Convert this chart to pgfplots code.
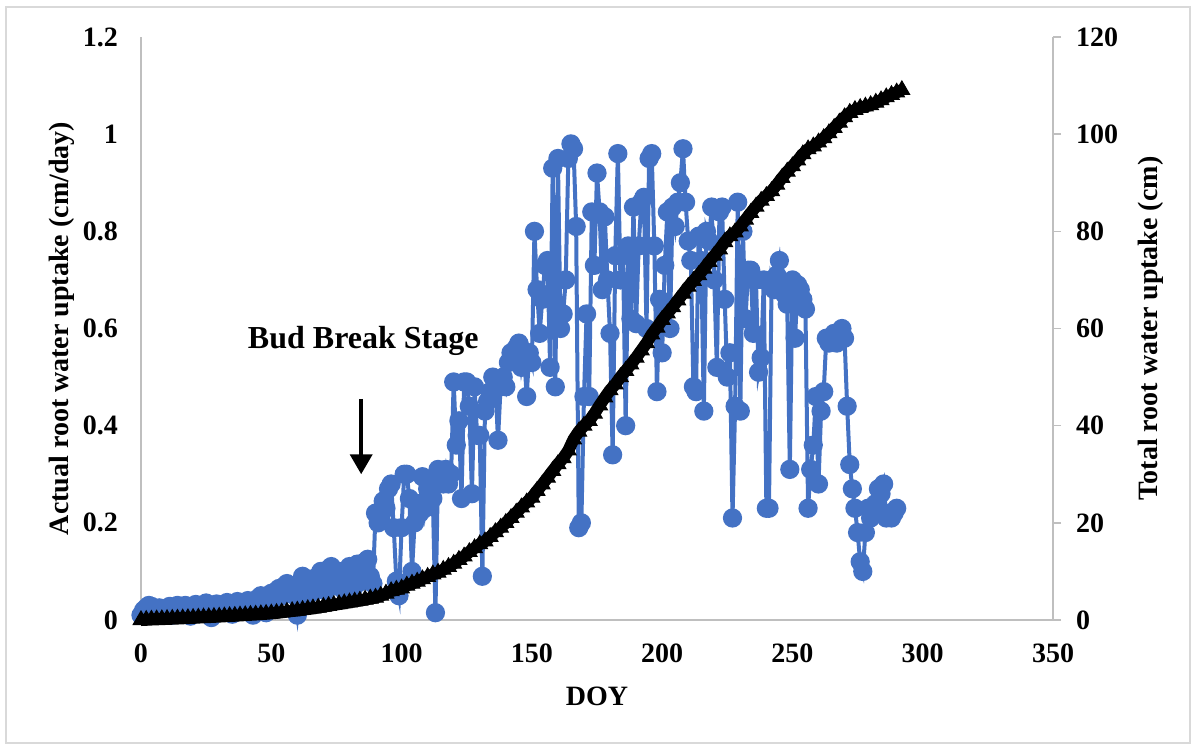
\documentclass[border=0pt]{standalone}
\usepackage{pgfplots}
\pgfplotsset{compat=1.18}
\usetikzlibrary{arrows.meta}
\usepackage{fontspec}
\setmainfont{Liberation Serif}
\definecolor{blu}{HTML}{4472C4}
\definecolor{axgray}{HTML}{BFBFBF}
\definecolor{brd}{HTML}{D9D9D9}
\begin{document}
\begin{tikzpicture}
\useasboundingbox (-70.5pt,-62.5pt) rectangle (526pt,310pt);
\draw[brd, line width=0.75pt] (-67.5pt,-61.5pt) rectangle (524.5pt,306.5pt);
\begin{axis}[
  width=456pt, height=291.5pt, scale only axis,
  xmin=0, xmax=350, ymin=0, ymax=1.2,
  axis x line*=bottom, axis y line*=left,
  axis line style={axgray, line width=0.75pt, -},
  xtick={0,50,100,150,200,250,300,350},
  ytick={0,0.2,0.4,0.6,0.8,1,1.2},
  yticklabels={0,0.2,0.4,0.6,0.8,1,1.2},
  major tick length=0pt,
  /pgf/number format/assume math mode=true,
  tick label style={font=\bfseries\fontsize{14}{16}\selectfont},
  xticklabel style={yshift=-8.5pt},
  yticklabel style={xshift=-8pt},
  xlabel={DOY}, ylabel={Actual root water uptake (cm/day)},
  label style={font=\bfseries\fontsize{14}{16}\selectfont},
  xlabel style={at={(axis description cs:0.5,-0.1304)}, anchor=center},
  ylabel style={at={(axis description cs:-0.0866,0.5)}, anchor=center},
  clip=false,
]
\addplot[blu, line width=2pt, mark=*, mark size=3.8pt, mark options={fill=blu, draw=blu}] coordinates {
(0,0.01)(1,0.02)(2,0.025)(3,0.03)(4,0.028)(5,0.02)(6,0.012)(7,0.025)(8,0.02)(9,0.015)
(10,0.022)(11,0.028)(12,0.01)(13,0.02)(14,0.03)(15,0.025)(16,0.018)(17,0.03)(18,0.022)(19,0.008)
(20,0.025)(21,0.032)(22,0.028)(23,0.015)(24,0.03)(25,0.035)(26,0.02)(27,0.005)(28,0.03)(29,0.033)
(30,0.025)(31,0.018)(32,0.03)(33,0.036)(34,0.028)(35,0.012)(36,0.032)(37,0.038)(38,0.03)(39,0.02)
(40,0.035)(41,0.04)(42,0.03)(43,0.01)(44,0.025)(45,0.045)(46,0.05)(47,0.035)(48,0.015)(49,0.05)
(50,0.055)(51,0.04)(52,0.06)(53,0.065)(54,0.05)(55,0.07)(56,0.075)(57,0.06)(58,0.065)(59,0.05)
(60,0.01)(61,0.06)(62,0.09)(63,0.07)(64,0.05)(65,0.075)(66,0.085)(67,0.06)(68,0.09)(69,0.1)
(70,0.08)(71,0.06)(72,0.105)(73,0.11)(74,0.09)(75,0.07)(76,0.1)(77,0.08)(78,0.06)(79,0.1)
(80,0.11)(81,0.085)(82,0.07)(83,0.115)(84,0.1)(85,0.08)(86,0.12)(87,0.125)(88,0.09)(89,0.075)
(90,0.22)(91,0.2)(92,0.21)(93,0.245)(94,0.23)(95,0.27)(96,0.28)(97,0.19)(98,0.08)(99,0.05)
(100,0.19)(101,0.3)(102,0.3)(103,0.25)(104,0.1)(105,0.2)(106,0.24)(107,0.22)(108,0.295)(109,0.23)
(110,0.27)(111,0.29)(112,0.25)(113,0.015)(114,0.31)(115,0.3)(116,0.28)(117,0.31)(118,0.28)(119,0.3)
(120,0.49)(121,0.36)(122,0.41)(123,0.25)(124,0.49)(125,0.49)(126,0.44)(127,0.26)(128,0.48)(129,0.38)
(130,0.38)(131,0.09)(132,0.43)(133,0.45)(134,0.47)(135,0.5)(136,0.49)(137,0.37)(138,0.48)(139,0.5)
(140,0.48)(141,0.53)(142,0.55)(143,0.54)(144,0.56)(145,0.57)(146,0.52)(147,0.55)(148,0.46)(149,0.55)
(150,0.53)(151,0.8)(152,0.68)(153,0.59)(154,0.66)(155,0.73)(156,0.74)(157,0.52)(158,0.93)(159,0.48)
(160,0.95)(161,0.6)(162,0.63)(163,0.7)(164,0.95)(165,0.98)(166,0.97)(167,0.81)(168,0.19)(169,0.2)
(170,0.46)(171,0.63)(172,0.46)(173,0.84)(174,0.73)(175,0.92)(176,0.84)(177,0.68)(178,0.83)(179,0.7)
(180,0.59)(181,0.34)(182,0.75)(183,0.96)(184,0.7)(185,0.75)(186,0.4)(187,0.77)(188,0.62)(189,0.85)
(190,0.61)(191,0.77)(192,0.86)(193,0.87)(194,0.6)(195,0.95)(196,0.96)(197,0.77)(198,0.47)(199,0.66)
(200,0.55)(201,0.73)(202,0.84)(203,0.6)(204,0.85)(205,0.81)(206,0.86)(207,0.9)(208,0.97)(209,0.86)
(210,0.78)(211,0.74)(212,0.48)(213,0.47)(214,0.79)(215,0.74)(216,0.43)(217,0.8)(218,0.78)(219,0.85)
(220,0.7)(221,0.52)(222,0.84)(223,0.85)(224,0.66)(225,0.5)(226,0.55)(227,0.21)(228,0.44)(229,0.86)
(230,0.43)(231,0.8)(232,0.62)(233,0.72)(234,0.72)(235,0.59)(236,0.7)(237,0.51)(238,0.54)(239,0.7)
(240,0.23)(241,0.23)(242,0.7)(243,0.68)(244,0.71)(245,0.74)(246,0.69)(247,0.67)(248,0.65)(249,0.31)
(250,0.7)(251,0.58)(252,0.69)(253,0.68)(254,0.66)(255,0.64)(256,0.23)(257,0.31)(258,0.36)(259,0.46)
(260,0.28)(261,0.43)(262,0.47)(263,0.58)(264,0.57)(265,0.58)(266,0.59)(267,0.57)(268,0.58)(269,0.6)
(270,0.58)(271,0.44)(272,0.32)(273,0.27)(274,0.23)(275,0.18)(276,0.12)(277,0.1)(278,0.18)(279,0.23)
(280,0.21)(281,0.22)(282,0.24)(283,0.27)(284,0.26)(285,0.28)(286,0.21)(287,0.22)(288,0.21)(289,0.22)
(290,0.23)
};
\draw[black, line width=2pt, -{Triangle[length=10pt, width=11pt]}] (axis cs:84.5,0.455) -- (axis cs:84.5,0.30);
\node[font=\bfseries\fontsize{16}{18}\selectfont, anchor=center] at (axis cs:85.3,0.574) {Bud Break Stage};
\end{axis}
\begin{axis}[
  width=456pt, height=291.5pt, scale only axis,
  xmin=0, xmax=350, ymin=0, ymax=120,
  axis x line=none, axis y line*=right,
  axis line style={axgray, line width=0.75pt, -},
  ytick={0,20,40,60,80,100,120},
  tick align=outside, major tick length=4pt,
  tick style={axgray, line width=0.75pt},
  /pgf/number format/assume math mode=true,
  tick label style={font=\bfseries\fontsize{14}{16}\selectfont},
  yticklabel style={xshift=4pt},
  ylabel={Total root water uptake (cm)},
  label style={font=\bfseries\fontsize{14}{16}\selectfont},
  ylabel style={at={(axis description cs:1.1075,0.5)}, anchor=center},
  clip=false,
]
\addplot[black, line width=6pt, mark=triangle*, mark size=4.5pt, mark options={fill=black, draw=black, line width=0.5pt}] coordinates {
(0,0)(2,0.04)(4,0.1)(6,0.14)(8,0.18)(10,0.22)(12,0.26)(14,0.3)(16,0.35)(18,0.4)
(20,0.44)(22,0.5)(24,0.55)(26,0.6)(28,0.65)(30,0.7)(32,0.76)(34,0.82)(36,0.87)(38,0.94)
(40,1.0)(42,1.07)(44,1.12)(46,1.2)(48,1.28)(50,1.36)(52,1.46)(54,1.58)(56,1.72)(58,1.85)
(60,1.95)(62,2.1)(64,2.25)(66,2.4)(68,2.56)(70,2.74)(72,2.92)(74,3.1)(76,3.28)(78,3.45)
(80,3.63)(82,3.82)(84,4.0)(86,4.2)(88,4.42)(90,4.6)(92,5.0)(94,5.45)(96,5.95)(98,6.25)
(100,6.5)(102,7.1)(104,7.5)(106,7.9)(108,8.4)(110,8.9)(112,9.4)(114,9.75)(116,10.35)(118,10.95)
(120,11.6)(122,12.4)(124,13.1)(126,14.0)(128,14.8)(130,15.6)(132,16.2)(134,17.1)(136,18.1)(138,19.0)
(140,20.0)(142,21.0)(144,22.1)(146,23.2)(148,24.2)(150,25.2)(152,26.6)(154,27.9)(156,29.3)(158,30.7)
(160,32.1)(162,33.3)(164,34.9)(166,37.2)(168,38.8)(170,40.0)(172,41.0)(174,42.5)(176,44.2)(178,45.8)
(180,47.3)(182,48.5)(184,50.0)(186,51.3)(188,52.6)(190,54.0)(192,55.5)(194,57.0)(196,58.8)(198,60.2)
(200,61.8)(202,63.1)(204,64.4)(206,65.8)(208,67.2)(210,68.6)(212,69.8)(214,71.0)(216,72.3)(218,73.7)
(220,75.0)(222,76.3)(224,77.8)(226,79.0)(228,79.8)(230,81.0)(232,82.4)(234,83.8)(236,85.1)(238,86.3)
(240,87.3)(242,88.3)(244,89.6)(246,91.0)(248,92.3)(250,93.4)(252,94.6)(254,95.9)(256,96.9)(258,97.5)
(260,98.3)(262,99.2)(264,100.2)(266,101.3)(268,102.4)(270,103.5)(272,104.4)(274,105.0)(276,105.4)(278,105.7)
(280,106.0)(282,106.5)(284,107.0)(286,107.6)(288,108.1)(290,108.6)(292,109.1)
};
\end{axis}
\end{tikzpicture}
\end{document}
